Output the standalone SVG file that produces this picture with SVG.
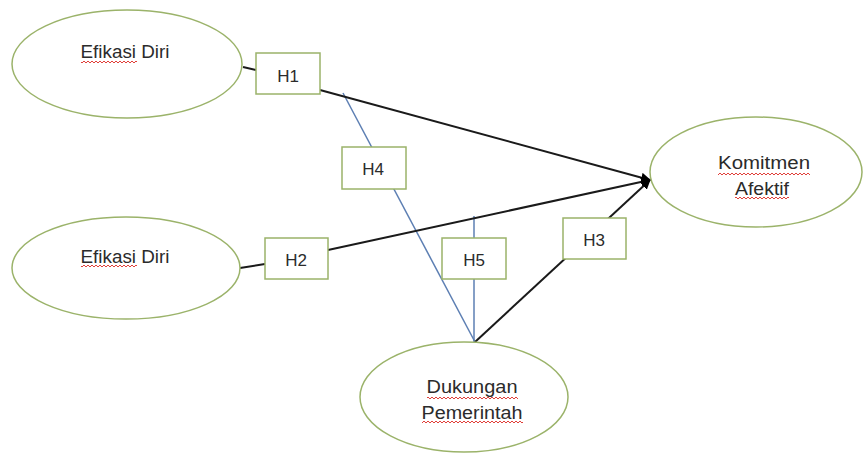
<svg xmlns="http://www.w3.org/2000/svg" width="867" height="455" viewBox="0 0 867 455">
<defs>
<style>
.ell{fill:#fff;stroke:#9bb36a;stroke-width:1.5}
.box{fill:#fff;stroke:#9bb36a;stroke-width:1.5}
.t{font-family:"Liberation Sans",Arial,sans-serif;fill:#2b2b2b;text-anchor:middle}
.lbl{font-size:17px}
.big{font-size:17.5px}
.blk{stroke:#1a1a1a;stroke-width:2;fill:none}
.blu{stroke:#5d7fb3;stroke-width:1.5;fill:none}
.sq{fill:url(#zig)}
</style>
<pattern id="zig" patternUnits="userSpaceOnUse" width="4" height="4">
<path d="M0,1 L2,3 L4,1" fill="none" stroke="#e0403a" stroke-width="1"/>
</pattern>
<marker id="arr" markerWidth="10" markerHeight="10" refX="9" refY="5" orient="auto" markerUnits="userSpaceOnUse">
<path d="M0,0 L10,5 L0,10 z" fill="#000"/>
</marker>
</defs>
<rect width="867" height="455" fill="#fff"/>
<g id="connectors">
<line class="blk" x1="243" y1="67" x2="256" y2="70"/>
<line class="blk" x1="240" y1="268" x2="265" y2="264"/>
<line class="blu" x1="343" y1="93" x2="475" y2="342"/>
<line class="blu" x1="474" y1="216" x2="474" y2="342"/>
<line class="blk" x1="320" y1="90" x2="650" y2="180" marker-end="url(#arr)"/>
<line class="blk" x1="328" y1="250" x2="650" y2="180" marker-end="url(#arr)"/>
<line class="blk" x1="475" y1="342" x2="650" y2="180" marker-end="url(#arr)"/>
</g>
<g id="efikasi1">
<ellipse class="ell" cx="127" cy="64" rx="115" ry="54"/>
<text class="t big" x="125" y="58" textLength="89" lengthAdjust="spacingAndGlyphs">Efikasi Diri</text>
<rect class="sq" x="81" y="59" width="56" height="4"/>
</g>
<g id="efikasi2">
<ellipse class="ell" cx="126" cy="268" rx="114" ry="51"/>
<text class="t big" x="125" y="263" textLength="89" lengthAdjust="spacingAndGlyphs">Efikasi Diri</text>
<rect class="sq" x="81" y="264" width="56" height="4"/>
</g>
<g id="komitmen">
<ellipse class="ell" cx="756" cy="172" rx="106" ry="55"/>
<text class="t big" x="764" y="169" textLength="92" lengthAdjust="spacingAndGlyphs">Komitmen</text>
<rect class="sq" x="718" y="171" width="92" height="4"/>
<text class="t big" x="762" y="195" textLength="54" lengthAdjust="spacingAndGlyphs">Afektif</text>
<rect class="sq" x="735" y="196" width="54" height="4"/>
</g>
<g id="dukungan">
<ellipse class="ell" cx="464" cy="397" rx="104" ry="55"/>
<text class="t big" x="472" y="393" textLength="91" lengthAdjust="spacingAndGlyphs">Dukungan</text>
<rect class="sq" x="427" y="395" width="91" height="4"/>
<text class="t big" x="472" y="419" textLength="101" lengthAdjust="spacingAndGlyphs">Pemerintah</text>
<rect class="sq" x="422" y="421" width="101" height="4"/>
</g>
<g id="h1"><rect class="box" x="256" y="53" width="64" height="41"/><text class="t lbl" x="288" y="82">H1</text></g>
<g id="h2"><rect class="box" x="265" y="238" width="63" height="41"/><text class="t lbl" x="296" y="266">H2</text></g>
<g id="h3"><rect class="box" x="563" y="218" width="63" height="41"/><text class="t lbl" x="594" y="246">H3</text></g>
<g id="h4"><rect class="box" x="342" y="147" width="64" height="42"/><text class="t lbl" x="373" y="175">H4</text></g>
<g id="h5"><rect class="box" x="442" y="238" width="64" height="41"/><text class="t lbl" x="474" y="266">H5</text></g>
</svg>
